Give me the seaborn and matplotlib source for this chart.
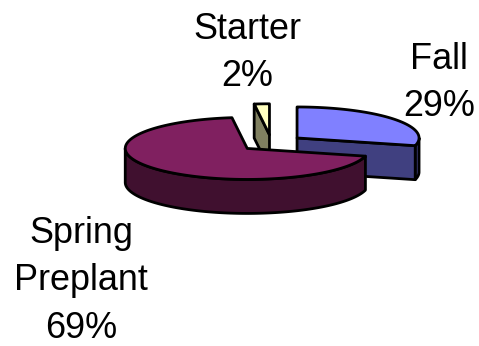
import numpy as np
import matplotlib
matplotlib.use("Agg")
import matplotlib.pyplot as plt
from matplotlib.patches import Polygon
import seaborn as sns

categories = ["Fall", "Spring\nPreplant", "Starter"]
values = [29, 69, 2]
top_colors = ["#8080FF", "#802060", "#FFFFC0"]
side_colors = ["#404080", "#40102F", "#808060"]
label_centers = [(439, 83), (81, 281), (247, 53)]

# Projected disc geometry, in figure pixels
CENTER = (271.5, 143)
RX, RY = 122, 31
DEPTH = 34
EXPLODE = 0.265
START = 90.0

sns.set_theme(style="white")
plt.rcParams["font.family"] = ["Liberation Sans", "DejaVu Sans"]

fig = plt.figure(figsize=(4.79, 3.46), dpi=100, facecolor="white")
ax = fig.add_axes([0, 0, 1, 1])
ax.set_xlim(0, 479)
ax.set_ylim(346, 0)
ax.axis("off")


def rim(cx, cy, a0, a1):
    t = np.radians(np.linspace(a0, a1, 120))
    return np.column_stack([cx + RX * np.cos(t), cy - RY * np.sin(t)])


def draw_slice(a0, a1, top, side, z):
    """Draw one exploded slice running clockwise from a0 to a1 degrees."""
    mid = np.radians((a0 + a1) / 2)
    cx = CENTER[0] + EXPLODE * RX * np.cos(mid)
    cy = CENTER[1] - EXPLODE * RY * np.sin(mid)
    style = dict(edgecolor="black", linewidth=2.0, joinstyle="round", zorder=z)
    edge = rim(cx, cy, a0, a1)
    down = np.array([0, DEPTH])
    apex = np.array([cx, cy])

    # Outer wall: the part of the rim on the lower half of the ellipse
    for k in (-1, 0):
        w0, w1 = max(a1, 180 + 360 * k), min(a0, 360 + 360 * k)
        if w0 < w1:
            arc = rim(cx, cy, w0, w1)
            ax.add_patch(Polygon(np.vstack([arc, arc[::-1] + down]),
                                 facecolor=side, **style))

    # Cut faces are drawn only when their outward normal points at the viewer
    if np.cos(np.radians(a0)) < -1e-9:
        ax.add_patch(Polygon([apex, edge[0], edge[0] + down, apex + down],
                             facecolor=side, **style))
    if np.cos(np.radians(a1)) > 1e-9:
        ax.add_patch(Polygon([apex, edge[-1], edge[-1] + down, apex + down],
                             facecolor=side, **style))

    ax.add_patch(Polygon(np.vstack([apex, edge]), facecolor=top, **style))


angles = START - np.cumsum([0] + values) * 3.6
order = [2, 0, 1]
for z, i in enumerate(order, start=2):
    draw_slice(angles[i], angles[i + 1], top_colors[i], side_colors[i], z)

for name, value, (x, y) in zip(categories, values, label_centers):
    ax.text(x, y, f"{name}\n{value}%", ha="center", va="center",
            fontsize=25.9, color="black", linespacing=1.46, zorder=10)

fig.savefig("out.png", dpi=100, facecolor="white")
